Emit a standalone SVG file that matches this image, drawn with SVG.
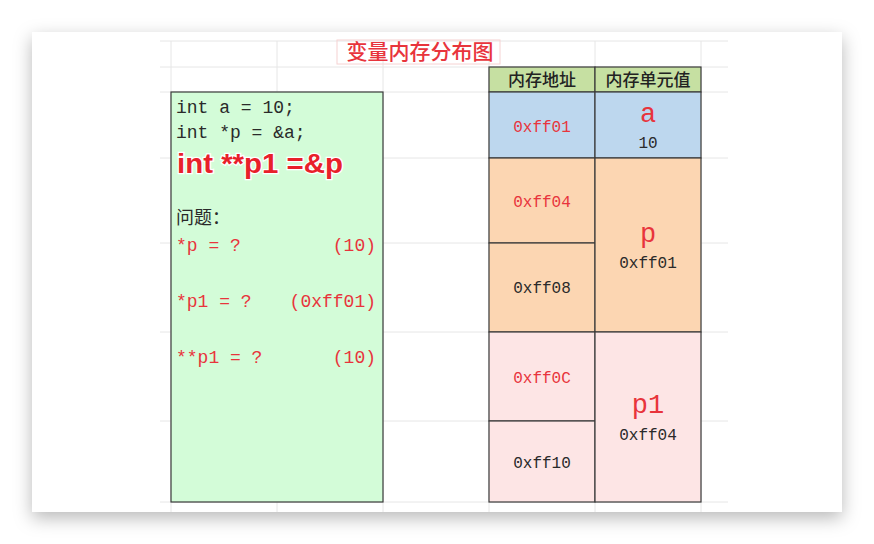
<svg xmlns="http://www.w3.org/2000/svg" width="874" height="544" viewBox="0 0 874 544">
<defs>
<filter id="sh" x="-10%" y="-10%" width="120%" height="125%">
<feDropShadow dx="0" dy="6" stdDeviation="9" flood-color="#000" flood-opacity="0.28"/>
</filter>
<style>
.grid{stroke:#e6e6e6;stroke-width:1;fill:none}
.cell{stroke:#3a3a3a;stroke-width:1.2}
.mono{font-family:"Liberation Mono","DejaVu Sans Mono",monospace}
.code{font-size:18px;fill:#2a2a2a}
.red{fill:#e8343c}
.dark{fill:#2a2a2a}
.cjk{font-family:"Noto Sans CJK SC",sans-serif}
.addr{font-size:16px;text-anchor:middle}
.big{font-size:27px;text-anchor:middle}
</style>
</defs>
<rect width="874" height="544" fill="#ffffff"/>
<rect x="32" y="32" width="810" height="480" fill="#ffffff" filter="url(#sh)"/>
<g id="grid">
<path class="grid" d="M160 41H728M160 67H728M160 92H728M160 158H728M160 243H728M160 332H728M160 421H728M160 502H728"/>
<path class="grid" d="M171 41V512M277 41V512M383 41V512M489 41V512M595 41V512M701 41V512"/>
</g>
<g id="title">
<rect x="337" y="40" width="163" height="24" fill="none" stroke="#f6d2d2" stroke-width="1"/>
<text x="420" y="59" class="cjk" font-size="21" font-weight="500" fill="#e8343c" text-anchor="middle">变量内存分布图</text>
</g>
<g id="code">
<rect x="171" y="92" width="212" height="410" fill="#d3fcd8" class="cell"/>
<text x="176" y="113" class="mono code">int a = 10;</text>
<text x="176" y="138" class="mono code">int *p = &amp;a;</text>
<text x="177" y="173" font-family="Liberation Sans,Arial,sans-serif" font-weight="bold" font-size="28" fill="#e8202a" stroke="#ffffff" stroke-width="2.5" paint-order="stroke" textLength="166" lengthAdjust="spacingAndGlyphs">int **p1 =&amp;p</text>
<text x="176" y="224" class="cjk" font-size="18" fill="#2a2a2a">问题：</text>
<text x="176" y="251" class="mono code red">*p = ?</text>
<text x="376" y="251" class="mono code red" text-anchor="end">(10)</text>
<text x="176" y="307" class="mono code red">*p1 = ?</text>
<text x="376" y="307" class="mono code red" text-anchor="end">(0xff01)</text>
<text x="176" y="363" class="mono code red">**p1 = ?</text>
<text x="376" y="363" class="mono code red" text-anchor="end">(10)</text>
</g>
<g id="header">
<rect x="489" y="67" width="106" height="25" fill="#c6e0a2" class="cell"/>
<rect x="595" y="67" width="106" height="25" fill="#c6e0a2" class="cell"/>
<text x="542" y="86" class="cjk" font-size="17" font-weight="500" fill="#222" text-anchor="middle">内存地址</text>
<text x="648" y="86" class="cjk" font-size="17" font-weight="500" fill="#222" text-anchor="middle">内存单元值</text>
</g>
<g id="var-a">
<rect x="489" y="92" width="106" height="66" fill="#bdd7ee" class="cell"/>
<rect x="595" y="92" width="106" height="66" fill="#bdd7ee" class="cell"/>
<text x="542" y="132" class="mono addr red">0xff01</text>
<text x="648" y="122" class="mono big red">a</text>
<text x="648" y="148" class="mono addr dark">10</text>
</g>
<g id="var-p">
<rect x="489" y="158" width="106" height="85" fill="#fcd6b2" class="cell"/>
<rect x="489" y="243" width="106" height="89" fill="#fcd6b2" class="cell"/>
<rect x="595" y="158" width="106" height="174" fill="#fcd6b2" class="cell"/>
<text x="542" y="207" class="mono addr red">0xff04</text>
<text x="542" y="293" class="mono addr dark">0xff08</text>
<text x="648" y="242" class="mono big red">p</text>
<text x="648" y="268" class="mono addr dark">0xff01</text>
</g>
<g id="var-p1">
<rect x="489" y="332" width="106" height="89" fill="#fde5e5" class="cell"/>
<rect x="489" y="421" width="106" height="81" fill="#fde5e5" class="cell"/>
<rect x="595" y="332" width="106" height="170" fill="#fde5e5" class="cell"/>
<text x="542" y="383" class="mono addr red">0xff0C</text>
<text x="542" y="468" class="mono addr dark">0xff10</text>
<text x="648" y="413" class="mono big red">p1</text>
<text x="648" y="440" class="mono addr dark">0xff04</text>
</g>
<g id="connectors"/>
</svg>
